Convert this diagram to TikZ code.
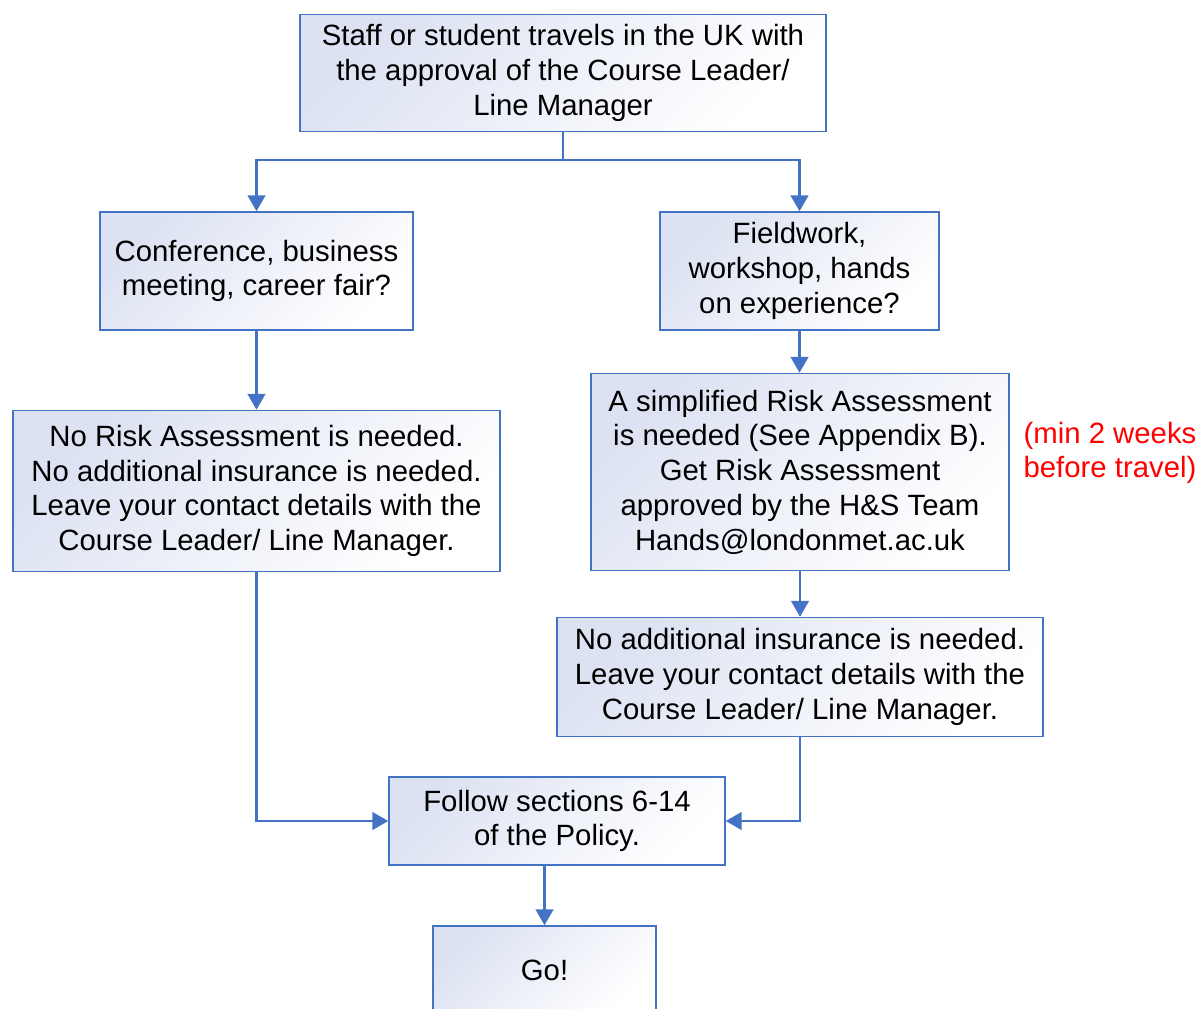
\documentclass[tikz,border=0pt]{standalone}
\usepackage{fontspec}
\setmainfont{Liberation Sans}
\usetikzlibrary{arrows.meta}
\definecolor{boxline}{RGB}{68,114,196}
\definecolor{boxshade}{RGB}{220,226,242}
\tikzset{
  flowbox/.style={draw=boxline, line width=0.9pt, top color=boxshade, bottom color=white,
    shading angle=45, align=center, inner sep=0pt, font=\fontsize{16.7}{19.8}\selectfont},
  flowline/.style={draw=boxline, line width=1.3pt, -{Triangle[width=10pt,length=9pt]}},
}
\begin{document}
\begin{tikzpicture}[x=0.02cm, y=-0.02cm]
\useasboundingbox (0,0) rectangle (1200,1008);
%boxes
\node[flowbox, minimum width=10.52cm, minimum height=2.34cm] (travel) at (563,73)
  {Staff or student travels in the UK with\\the approval of the Course Leader/\\Line Manager};
\node[flowbox, minimum width=6.26cm, minimum height=2.36cm] (conf) at (256.5,271)
  {Conference, business\\meeting, career fair?};
\node[flowbox, minimum width=5.58cm, minimum height=2.36cm] (field) at (799.5,271)
  {Fieldwork,\\workshop, hands\\on experience?};
\node[flowbox, minimum width=9.74cm, minimum height=3.22cm] (norisk) at (256.5,491)
  {No Risk Assessment is needed.\\No additional insurance is needed.\\Leave your contact details with the\\Course Leader/ Line Manager.};
\node[flowbox, minimum width=8.36cm, minimum height=3.94cm] (simple) at (800,472)
  {A simplified Risk Assessment\\is needed (See Appendix B).\\Get Risk Assessment\\approved by the H\&S Team\\Hands@londonmet.ac.uk};
\node[flowbox, minimum width=9.72cm, minimum height=2.38cm] (noins) at (800,677)
  {No additional insurance is needed.\\Leave your contact details with the\\Course Leader/ Line Manager.};
\node[flowbox, minimum width=6.72cm, minimum height=1.76cm] (follow) at (557,821)
  {Follow sections 6-14\\of the Policy.};
\node[flowbox, minimum width=4.46cm, minimum height=1.76cm] (go) at (544.5,970) {Go!};
%note
\node[text=red, align=center, font=\fontsize{16.7}{19.8}\selectfont] (note) at (1110,453)
  {(min 2 weeks\\before travel)};
%connectors
\coordinate (split) at (563,160);
\draw[boxline, line width=1.3pt] (travel.south) -- (split);
\draw[flowline] (split) -| (conf.north);
\draw[flowline] (split) -| (field.north);
\draw[flowline] (conf.south) -- (norisk.north);
\draw[flowline] (field.south) -- (field.south |- simple.north);
\draw[flowline] (simple.south) -- (noins.north);
\draw[flowline] (norisk.south) |- (follow.west);
\draw[flowline] (noins.south) |- (follow.east);
\draw[flowline] (go.north |- follow.south) -- (go.north);
\end{tikzpicture}
\end{document}
